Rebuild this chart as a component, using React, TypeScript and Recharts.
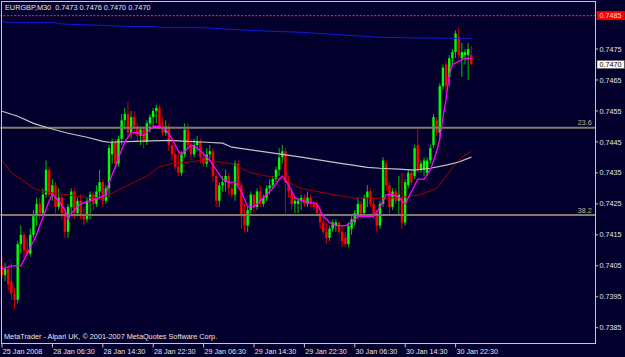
import { ComposedChart, Bar, Line, XAxis, YAxis, ReferenceLine } from "recharts";

// EURGBP M30 candles, [open, high, low, close]
const candles: [number, number, number, number][] = [
  [0.7405, 0.7408, 0.7401, 0.7402], [0.7402, 0.7406, 0.74, 0.7404], [0.7404, 0.7405, 0.7397, 0.7399],
  [0.74, 0.7406, 0.7394, 0.7396], [0.7396, 0.7398, 0.7391, 0.7394], [0.7394, 0.7413, 0.7393, 0.7412],
  [0.7412, 0.7418, 0.7409, 0.7415], [0.7415, 0.7416, 0.7408, 0.741], [0.741, 0.7414, 0.7408, 0.7409],
  [0.7409, 0.7417, 0.7408, 0.7415], [0.7415, 0.7423, 0.7414, 0.7421], [0.7421, 0.7427, 0.7418, 0.7425],
  [0.7425, 0.7427, 0.742, 0.7422], [0.7422, 0.743, 0.7421, 0.7428], [0.7428, 0.7439, 0.7427, 0.7436],
  [0.7436, 0.7437, 0.7427, 0.7428], [0.7428, 0.7433, 0.7426, 0.7431], [0.7431, 0.7432, 0.7422, 0.7424],
  [0.7424, 0.743, 0.7423, 0.7427], [0.7427, 0.7428, 0.742, 0.7422], [0.7422, 0.7424, 0.7414, 0.7416],
  [0.7416, 0.7425, 0.7414, 0.7424], [0.7424, 0.743, 0.7422, 0.7429], [0.7429, 0.743, 0.742, 0.7422],
  [0.7422, 0.7427, 0.7421, 0.7426], [0.7426, 0.7428, 0.742, 0.7421], [0.7421, 0.7424, 0.7418, 0.742],
  [0.742, 0.7427, 0.7419, 0.7426], [0.7426, 0.7429, 0.742, 0.7428], [0.7428, 0.7429, 0.7423, 0.7425],
  [0.7425, 0.7431, 0.7424, 0.7429], [0.7429, 0.7436, 0.7427, 0.7432], [0.7432, 0.7433, 0.7424, 0.7426],
  [0.7426, 0.7431, 0.7425, 0.743], [0.743, 0.7444, 0.7427, 0.7443], [0.7441, 0.7446, 0.7438, 0.7445],
  [0.7445, 0.7446, 0.7436, 0.7438], [0.7438, 0.7447, 0.7437, 0.7446], [0.7446, 0.7454, 0.7444, 0.7452],
  [0.7452, 0.7456, 0.7449, 0.7454], [0.7454, 0.7458, 0.7446, 0.7448], [0.7448, 0.7455, 0.7446, 0.7453],
  [0.7453, 0.7455, 0.7448, 0.745], [0.745, 0.7451, 0.7445, 0.7447], [0.7447, 0.745, 0.7444, 0.7449],
  [0.7449, 0.745, 0.7443, 0.7445], [0.7445, 0.7452, 0.7444, 0.7451], [0.7451, 0.7454, 0.7448, 0.7453],
  [0.7453, 0.7456, 0.745, 0.7455], [0.7455, 0.7457, 0.7451, 0.7456], [0.7456, 0.7457, 0.7449, 0.745],
  [0.745, 0.7453, 0.7447, 0.7448], [0.7448, 0.7452, 0.7447, 0.745], [0.745, 0.7451, 0.7442, 0.7444],
  [0.7444, 0.7446, 0.7439, 0.7441], [0.7441, 0.7444, 0.7436, 0.7437], [0.7437, 0.7442, 0.7434, 0.7435],
  [0.7435, 0.7442, 0.7434, 0.7441], [0.7441, 0.7451, 0.744, 0.7449], [0.7449, 0.7451, 0.7443, 0.7444],
  [0.7444, 0.7446, 0.7439, 0.7441], [0.7441, 0.7446, 0.744, 0.7444], [0.7444, 0.7447, 0.7442, 0.7445],
  [0.7445, 0.7446, 0.7438, 0.744], [0.744, 0.7442, 0.7437, 0.7438], [0.7438, 0.7443, 0.7437, 0.7441],
  [0.7441, 0.7444, 0.7439, 0.7442], [0.7442, 0.7443, 0.7432, 0.7434], [0.7434, 0.7435, 0.7424, 0.7426],
  [0.7426, 0.7432, 0.7424, 0.7431], [0.7431, 0.7434, 0.7429, 0.7432], [0.7432, 0.7436, 0.7429, 0.7434],
  [0.7434, 0.7435, 0.7428, 0.743], [0.743, 0.7432, 0.7427, 0.7428], [0.7428, 0.7439, 0.7426, 0.7438],
  [0.7438, 0.7439, 0.7429, 0.7431], [0.7431, 0.7432, 0.7417, 0.7421], [0.7421, 0.7425, 0.7416, 0.7418],
  [0.7418, 0.7424, 0.7416, 0.7423], [0.7423, 0.7429, 0.7422, 0.7428], [0.7428, 0.7428, 0.7422, 0.7424],
  [0.7424, 0.743, 0.7423, 0.7429], [0.7429, 0.7431, 0.7424, 0.7425], [0.7425, 0.7428, 0.7424, 0.7427],
  [0.7427, 0.7431, 0.7426, 0.743], [0.743, 0.7433, 0.7428, 0.7431], [0.7431, 0.7434, 0.743, 0.7433],
  [0.7433, 0.7437, 0.7432, 0.7436], [0.7436, 0.7443, 0.7434, 0.744], [0.744, 0.7444, 0.7438, 0.7442],
  [0.7442, 0.7443, 0.7422, 0.7432], [0.7432, 0.7434, 0.7427, 0.7429], [0.7429, 0.743, 0.7423, 0.7425],
  [0.7425, 0.7427, 0.7422, 0.7426], [0.7425, 0.7427, 0.7422, 0.7426], [0.7426, 0.7428, 0.7423, 0.7427],
  [0.7427, 0.7428, 0.7424, 0.7425], [0.7425, 0.7429, 0.7424, 0.7427], [0.7427, 0.7428, 0.7424, 0.7425],
  [0.7425, 0.7426, 0.7423, 0.7424], [0.7425, 0.7426, 0.7421, 0.7422], [0.7422, 0.7424, 0.7417, 0.7419],
  [0.7419, 0.7421, 0.7415, 0.7416], [0.7416, 0.7419, 0.7412, 0.7414], [0.7414, 0.7418, 0.7413, 0.7417],
  [0.7417, 0.742, 0.7416, 0.7419], [0.7418, 0.742, 0.7416, 0.7419], [0.7419, 0.7419, 0.7415, 0.7416],
  [0.7416, 0.7418, 0.7411, 0.7413], [0.7414, 0.7416, 0.7411, 0.7412], [0.7412, 0.7419, 0.7411, 0.7418],
  [0.7417, 0.7421, 0.7415, 0.742], [0.7419, 0.7423, 0.7418, 0.7422], [0.7421, 0.7427, 0.742, 0.7425],
  [0.7425, 0.7426, 0.742, 0.7421], [0.7422, 0.7428, 0.7421, 0.7427], [0.7427, 0.7431, 0.7424, 0.7429],
  [0.7429, 0.743, 0.7424, 0.7425], [0.7425, 0.7427, 0.742, 0.7421], [0.7422, 0.7423, 0.7416, 0.7418],
  [0.7418, 0.7426, 0.7417, 0.7425], [0.7425, 0.744, 0.7424, 0.7439], [0.7438, 0.7439, 0.7429, 0.7431],
  [0.7431, 0.7432, 0.7421, 0.7424], [0.7424, 0.743, 0.7423, 0.7429], [0.7429, 0.743, 0.7425, 0.7426],
  [0.7426, 0.7434, 0.7421, 0.7428], [0.7427, 0.7435, 0.7417, 0.7419], [0.7419, 0.7433, 0.7418, 0.7432],
  [0.7431, 0.7436, 0.743, 0.7435], [0.7435, 0.7436, 0.7431, 0.7432], [0.7434, 0.7444, 0.7433, 0.7443],
  [0.7444, 0.7449, 0.7435, 0.7436], [0.7436, 0.7439, 0.7435, 0.7438], [0.7436, 0.744, 0.7434, 0.7439],
  [0.7435, 0.744, 0.7434, 0.7439], [0.7439, 0.7444, 0.7438, 0.7443], [0.7444, 0.7454, 0.7443, 0.7453],
  [0.7452, 0.7453, 0.7447, 0.7448], [0.7448, 0.7464, 0.7446, 0.7463], [0.7463, 0.747, 0.7462, 0.7469],
  [0.747, 0.7471, 0.7461, 0.7463], [0.7466, 0.7473, 0.7463, 0.7472], [0.7472, 0.7475, 0.747, 0.7474],
  [0.7474, 0.7481, 0.7472, 0.748], [0.7479, 0.7482, 0.7472, 0.7473], [0.7472, 0.7477, 0.7466, 0.7474],
  [0.7473, 0.7475, 0.747, 0.7474], [0.7473, 0.7477, 0.7465, 0.7475], [0.7473, 0.7476, 0.747, 0.747],
];

// indicator lines, [bar index, price]
const fastMA: [number, number][] = [
  [0, 0.7404], [3, 0.7405], [6, 0.7405], [9, 0.7411], [11, 0.7415], [12, 0.7418], [15, 0.7426],
  [16, 0.7428], [18, 0.7426], [20, 0.7423], [21, 0.742], [22, 0.7422], [25, 0.7425], [28, 0.7426],
  [31, 0.7427], [33, 0.7428], [34, 0.7432], [36, 0.7437], [37, 0.744], [39, 0.7445], [41, 0.7448],
  [43, 0.7448], [45, 0.7447], [46, 0.7448], [48, 0.745], [50, 0.745], [52, 0.7449], [54, 0.7446],
  [56, 0.7442], [57, 0.7441], [58, 0.7442], [60, 0.7444], [62, 0.7443], [64, 0.7441], [66, 0.7439],
  [68, 0.7436], [70, 0.7433], [72, 0.7432], [74, 0.7432], [76, 0.7429], [78, 0.7424], [80, 0.7424],
  [82, 0.7426], [84, 0.7428], [86, 0.743], [88, 0.7433], [89, 0.7434], [91, 0.7431], [93, 0.7427],
  [95, 0.7426], [100, 0.7425], [102, 0.7421], [104, 0.7419], [106, 0.7418], [109, 0.7418],
  [111, 0.7419], [113, 0.7421], [115, 0.7421], [118, 0.7421], [120, 0.7424], [122, 0.7428],
  [124, 0.7428], [126, 0.7427], [128, 0.7425], [130, 0.7429], [132, 0.7433], [134, 0.7433],
  [136, 0.7436], [137, 0.7439], [138, 0.7442], [139, 0.7446], [140, 0.7453], [141, 0.7459],
  [142, 0.7467], [143, 0.747], [145, 0.7471], [147, 0.7472], [149, 0.7472],
];
const midMA: [number, number][] = [
  [0, 0.7439], [3, 0.7435], [6, 0.7433], [10, 0.743], [13, 0.7429], [20, 0.7428], [27, 0.7427],
  [32, 0.7427], [34, 0.7428], [38, 0.743], [42, 0.7432], [46, 0.7434], [50, 0.7437], [54, 0.7438],
  [59, 0.74385], [63, 0.7439], [69, 0.74385], [73, 0.7438], [79, 0.7435], [84, 0.7434], [89, 0.7433],
  [95, 0.743], [100, 0.7429], [105, 0.7428], [111, 0.7427], [116, 0.74268], [121, 0.74268],
  [126, 0.7427], [133, 0.7428], [138, 0.743], [141, 0.7434], [144, 0.7438], [146, 0.744], [149, 0.7442],
];
const slowMA: [number, number][] = [
  [0, 0.74549], [5, 0.74533], [10, 0.7451], [15, 0.74494], [21, 0.74478], [27, 0.74465], [32, 0.74452],
  [34, 0.74449], [42, 0.74452], [53, 0.74455], [59, 0.74452], [65, 0.74449], [70, 0.74446],
  [73, 0.74433], [84, 0.74417], [95, 0.74401], [105, 0.74385], [116, 0.74368], [120, 0.74365],
  [126, 0.74362], [131, 0.74359], [136, 0.74365], [141, 0.74375], [145, 0.74385], [149, 0.74401],
];
const blueLine: [number, number][] = [
  [0, 0.7484], [2, 0.74835], [17, 0.74835], [18, 0.74832], [21, 0.7483], [33, 0.74826], [40, 0.74823],
  [49, 0.74823], [50, 0.74819], [63, 0.74819], [79, 0.7481], [95, 0.74804], [107, 0.74796],
  [120, 0.74788], [130, 0.74786], [149, 0.74784],
];

const timeLabels = [
  "25 Jan 2008", "28 Jan 06:30", "28 Jan 14:30", "28 Jan 22:30", "29 Jan 06:30",
  "29 Jan 14:30", "29 Jan 22:30", "30 Jan 06:30", "30 Jan 14:30", "30 Jan 22:30",
];
const barsPerLabel = 16;
const priceTicks = [0.7385, 0.7395, 0.7405, 0.7415, 0.7425, 0.7435, 0.7445, 0.7455, 0.7465, 0.7475];
const fibLevels = [
  { name: "23.6", price: 0.74496 },
  { name: "38.2", price: 0.74214 },
];
const alertLevel = { price: 0.74858, text: "0.7485" };
const bidLevel = { price: 0.747, text: "0.7470" };

const SLOTS = 189;
const BG = "#03002d";
const FRAME = "#c8c8c8";
const TEXT = "#e6e6e6";
const FONT = "'Liberation Sans', Arial, sans-serif";

const table: any[] = Array.from({ length: SLOTS }, (_, i) => {
  const c = candles[i];
  return {
    i,
    o: c ? c[0] : null,
    h: c ? c[1] : null,
    l: c ? c[2] : null,
    c: c ? c[3] : null,
    range: c ? [c[2], c[1]] : null,
    fast: null,
    mid: null,
    slow: null,
    blue: null,
  };
});
fastMA.forEach(([i, v]) => (table[i].fast = v));
midMA.forEach(([i, v]) => (table[i].mid = v));
slowMA.forEach(([i, v]) => (table[i].slow = v));
blueLine.forEach(([i, v]) => (table[i].blue = v));

const Candle = (props: any) => {
  const { x, y, width, height, payload } = props;
  if (!payload || payload.o == null) return null;
  const { o, h, l, c } = payload;
  const top = Math.min(y, y + height);
  const bottom = Math.max(y, y + height);
  const span = h - l;
  const py = (p: number) => (span === 0 ? top : top + ((h - p) / span) * (bottom - top));
  const up = c >= o;
  const cx = x + width / 2;
  const bTop = py(Math.max(o, c));
  const bBot = py(Math.min(o, c));
  return (
    <g>
      <line x1={cx} x2={cx} y1={top} y2={bottom} stroke={up ? "#00c000" : "#d00000"} strokeWidth={1} />
      <rect x={cx - 1.2} y={bTop} width={2.4} height={Math.max(bBot - bTop, 1)} fill={up ? "#00ff00" : "#ff0000"} />
    </g>
  );
};

const TimeTick = ({ x, payload }: any) => (
  <g>
    <line x1={x} x2={x} y1={344} y2={347.5} stroke={FRAME} />
    <text x={x + 0.8} y={353.6} fill={TEXT} fontSize={7.2} fontFamily={FONT}>
      {timeLabels[payload.value / barsPerLabel]}
    </text>
  </g>
);

const PriceTick = ({ y, payload }: any) => (
  <g>
    <line x1={596} x2={598} y1={y} y2={y} stroke={FRAME} />
    <text x={599.5} y={y + 2.6} fill={TEXT} fontSize={7.2} fontFamily={FONT}>
      {payload.value.toFixed(4)}
    </text>
  </g>
);

const PriceTag = ({ viewBox, text, bg, fg, border }: any) => {
  const yy = viewBox.y;
  return (
    <g>
      <rect x={597} y={yy - 4.2} width={27.5} height={8.4} fill={bg} stroke={border} strokeWidth={0.6} />
      <text x={599.5} y={yy + 2.6} fill={fg} fontSize={7.2} fontFamily={FONT}>
        {text}
      </text>
    </g>
  );
};

const FibLabel = ({ viewBox, text }: any) => (
  <text
    x={viewBox.x + viewBox.width - 4}
    y={viewBox.y - 2.5}
    textAnchor="end"
    fill="#c9b795"
    fontSize={7.2}
    fontFamily={FONT}
  >
    {text}
  </text>
);

export default function App() {
  return (
    <div style={{ position: "fixed", left: 0, top: 0, width: 625, height: 357, background: BG, overflow: "hidden" }}>
      <ComposedChart width={625} height={357} data={table} margin={{ top: 2, right: 0, bottom: 0, left: 0.425 }}>
        <XAxis
          dataKey="i"
          height={14}
          interval={0}
          ticks={timeLabels.map((_, k) => k * barsPerLabel)}
          tick={<TimeTick />}
          axisLine={false}
          tickLine={false}
        />
        <YAxis
          orientation="right"
          width={29.2}
          type="number"
          domain={[0.738007, 0.749018]}
          allowDataOverflow
          ticks={priceTicks}
          tick={<PriceTick />}
          axisLine={false}
          tickLine={false}
        />
        {fibLevels.map((f) => (
          <ReferenceLine
            key={f.name}
            y={f.price}
            stroke="#857a69"
            strokeWidth={2}
            label={<FibLabel text={f.name} />}
          />
        ))}
        <ReferenceLine
          y={alertLevel.price}
          stroke="#d8204c"
          strokeWidth={1.2}
          strokeDasharray="2 1.6"
          label={<PriceTag text={alertLevel.text} bg="#ff0000" fg="#ffd6d6" border="#ff0000" />}
        />
        <ReferenceLine
          y={bidLevel.price}
          stroke="none"
          label={<PriceTag text={bidLevel.text} bg="#ffffff" fg="#000000" border="#404040" />}
        />
        <Line dataKey="blue" stroke="#1818d8" strokeWidth={1} dot={false} connectNulls isAnimationActive={false} />
        <Line dataKey="mid" stroke="#a00000" strokeWidth={1} dot={false} connectNulls isAnimationActive={false} />
        <Bar dataKey="range" barSize={3} shape={<Candle />} isAnimationActive={false} />
        <Line dataKey="slow" stroke="#c4c4c4" strokeWidth={1.2} dot={false} connectNulls isAnimationActive={false} />
        <Line dataKey="fast" stroke="#ff00ff" strokeWidth={1.3} dot={false} connectNulls isAnimationActive={false} />
      </ComposedChart>
      <div
        style={{
          position: "absolute",
          left: 1,
          top: 1,
          width: 595,
          height: 343,
          boxSizing: "border-box",
          border: `1px solid ${FRAME}`,
          pointerEvents: "none",
        }}
      />
      <div
        style={{
          position: "absolute",
          left: 5,
          top: 3.8,
          fontFamily: FONT,
          fontSize: 7.3,
          lineHeight: 1,
          color: TEXT,
          whiteSpace: "pre",
        }}
      >
        {"EURGBP,M30  0.7473 0.7476 0.7470 0.7470"}
      </div>
      <div
        style={{
          position: "absolute",
          left: 4,
          top: 333.3,
          fontFamily: FONT,
          fontSize: 7.3,
          lineHeight: 1,
          color: TEXT,
          whiteSpace: "pre",
        }}
      >
        {"MetaTrader - Alpari UK, © 2001-2007 MetaQuotes Software Corp."}
      </div>
    </div>
  );
}
